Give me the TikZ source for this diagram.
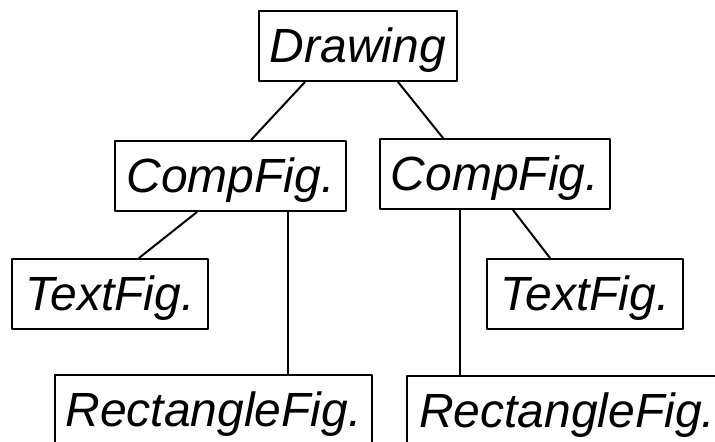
\documentclass[tikz,border=0pt]{standalone}
\usepackage{fontspec}
\setmainfont{Liberation Sans}
\tikzset{
  every picture/.style={line join=round, line cap=round},
  fig/.style={draw, line width=1pt, inner sep=0pt, text height=16.5pt, text depth=0pt,
    minimum height=35pt, font=\fontsize{24}{24}\selectfont\itshape},
  link/.style={line width=1pt},
}

\begin{document}
\begin{tikzpicture}[x=0.5pt,y=-0.5pt]
\useasboundingbox (0,0) rectangle (715,442);
% boxes
\node[fig,minimum width=99pt] (drawing) at (358,46) {Drawing};
\node[fig,minimum width=115.5pt] (compl) at (230.5,176) {CompFig.};
\node[fig,minimum width=115pt] (compr) at (495,174) {CompFig.};
\node[fig,minimum width=98pt] (textl) at (110,294) {TextFig.};
\node[fig,minimum width=98pt] (textr) at (585,294) {TextFig.};
\node[fig,minimum width=158.5pt] (rectl) at (213.5,410) {RectangleFig.};
\node[fig,inner xsep=6pt,text width=158pt,align=left] (rectr) at (577,411) {RectangleFig.};
% links
\draw[link] ([xshift=-26.5pt]drawing.south) -- ([xshift=10.25pt]compl.north);
\draw[link] ([xshift=20pt]drawing.south) -- ([xshift=-26pt]compr.north);
\draw[link] ([xshift=-16.75pt]compl.south) -- ([xshift=14.5pt]textl.north);
\draw[link] ([xshift=28.75pt]compl.south) -- ([xshift=37.25pt]rectl.north);
\draw[link] ([xshift=-17.5pt]compr.south) -- ([xshift=-58.5pt]rectr.north);
\draw[link] ([xshift=9pt]compr.south) -- ([xshift=-17.5pt]textr.north);
\end{tikzpicture}
\end{document}
